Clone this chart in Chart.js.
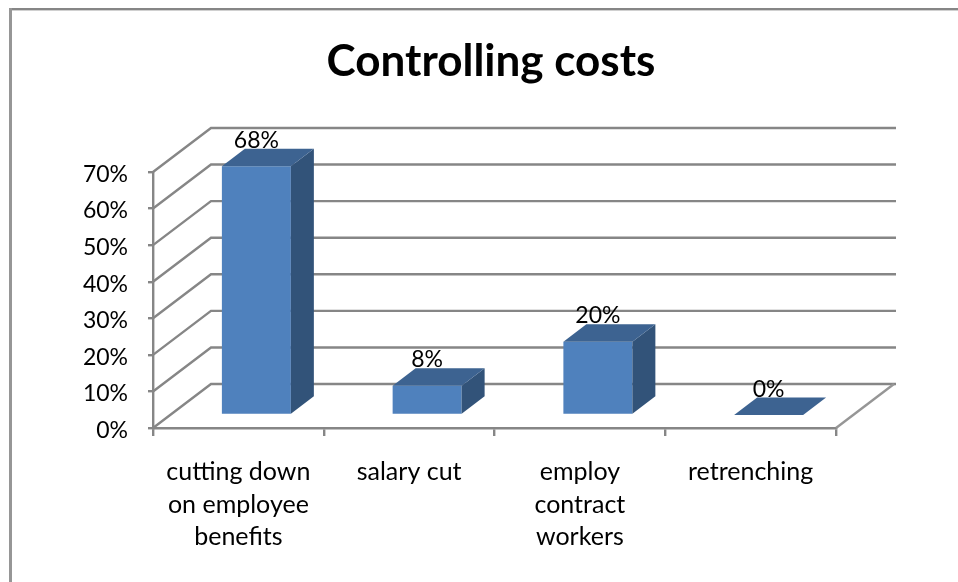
<!DOCTYPE html>
<html lang="en">
<head>
  <meta charset="UTF-8">
  <title>Controlling costs</title>
  <script src="https://cdn.jsdelivr.net/npm/chart.js"></script>
  <style>
    html, body { margin: 0; background: #fff; }
    canvas { display: block; }
  </style>
</head>
<body>
  <canvas id="costsChart" width="958" height="582"></canvas>

  <script>
    const categories = [
      ['cutting down', 'on employee', 'benefits'],
      'salary cut',
      ['employ', 'contract', 'workers'],
      'retrenching'
    ];
    const values = [68, 8, 20, 0];
    const yTicks = [0, 10, 20, 30, 40, 50, 60, 70];

    const axisColor = '#868686';
    const wallDepth = { x: 58, y: -44 };
    const barOffset = { x: 18, y: -13 };
    const barDepth = { x: 23, y: -17.5 };

    function poly(ctx, color, pts) {
      ctx.fillStyle = color;
      ctx.beginPath();
      pts.forEach((p, i) => i ? ctx.lineTo(p[0], p[1]) : ctx.moveTo(p[0], p[1]));
      ctx.closePath();
      ctx.fill();
    }

    // the 3D look: frame, walls and floor behind, bar sides and tops on top
    const threeD = {
      id: 'threeD',
      afterLayout(chart) {
        // title sits a bit right of the page centre
        chart.titleBlock.left = 146;
      },
      beforeDraw(chart) {
        // Lato's middle baseline rides high, nudge the y labels down
        chart.scales.y.getLabelItems().forEach(item => { item.options.translation[1] += 2.5; });
      },
      beforeDatasetsDraw(chart) {
        const ctx = chart.ctx;
        const { left, right } = chart.chartArea;
        const y = chart.scales.y;
        ctx.save();
        ctx.fillStyle = '#d0d0d0';
        ctx.fillRect(12, 10, 946, 1);
        ctx.fillStyle = axisColor;
        ctx.fillRect(9, 8, 949, 2);
        ctx.fillStyle = '#969696';
        ctx.fillRect(9, 8, 3, 574);
        ctx.strokeStyle = axisColor;
        ctx.lineWidth = 2.4;
        yTicks.forEach(t => {
          const py = y.getPixelForValue(t);
          ctx.beginPath();
          ctx.moveTo(left, py);
          ctx.lineTo(left + wallDepth.x, py + wallDepth.y);
          ctx.lineTo(right + wallDepth.x + 2, py + wallDepth.y);
          ctx.stroke();
        });
        const floor = y.getPixelForValue(0);
        ctx.strokeStyle = '#969696';
        ctx.beginPath();
        ctx.moveTo(right, floor);
        ctx.lineTo(right + wallDepth.x, floor + wallDepth.y);
        ctx.stroke();
        ctx.restore();
        ctx.save();
        ctx.translate(barOffset.x, barOffset.y);
      },
      afterDatasetsDraw(chart) {
        const ctx = chart.ctx;
        chart.getDatasetMeta(0).data.forEach(bar => {
          const l = bar.x - bar.width / 2;
          const r = bar.x + bar.width / 2;
          const dx = barDepth.x;
          const dy = barDepth.y;
          poly(ctx, '#325379', [[r, bar.y], [r + dx, bar.y + dy], [r + dx, bar.base + dy], [r, bar.base]]);
          poly(ctx, '#3d6391', [[l, bar.y], [l + dx, bar.y + dy], [r + dx, bar.y + dy], [r, bar.y]]);
        });
        ctx.fillStyle = '#000';
        ctx.font = '23px Lato';
        ctx.textAlign = 'center';
        ctx.textBaseline = 'alphabetic';
        chart.getDatasetMeta(0).data.forEach((bar, i) => {
          ctx.fillText(values[i] + '%', bar.x, bar.y - 18.5);
        });
        ctx.restore();
      }
    };

    new Chart(document.getElementById('costsChart'), {
      type: 'bar',
      data: {
        labels: categories,
        datasets: [{
          data: values,
          backgroundColor: '#4f81bd',
          borderWidth: 0,
          categoryPercentage: 1,
          barPercentage: 0.404
        }]
      },
      plugins: [threeD],
      options: {
        responsive: false,
        animation: false,
        layout: { padding: { left: 0, right: 122, top: 0, bottom: 0 } },
        plugins: {
          legend: { display: false },
          tooltip: { enabled: false },
          title: {
            display: true,
            text: 'Controlling costs',
            color: '#000',
            font: { family: 'Lato', size: 44, weight: 'bold', lineHeight: 1.2 },
            padding: { top: 35, bottom: 84.2 }
          }
        },
        scales: {
          x: {
            afterFit(scale) { scale.height = 154; },
            grid: { drawOnChartArea: false, color: axisColor, lineWidth: 2.4, tickLength: 8 },
            border: { color: axisColor, width: 2.4 },
            ticks: {
              color: '#000',
              padding: 20,
              maxRotation: 0,
              autoSkip: false,
              font: { family: 'Lato', size: 25, lineHeight: 1.3 }
            }
          },
          y: {
            min: 0,
            max: 70,
            afterFit(scale) { scale.width = 153; },
            afterBuildTicks(scale) { scale.ticks = yTicks.map(v => ({ value: v })); },
            grid: { drawOnChartArea: false, color: axisColor, lineWidth: 2.4, tickLength: 5 },
            border: { color: axisColor, width: 2.4 },
            ticks: {
              color: '#000',
              padding: 20,
              callback: v => v + '%',
              font: { family: 'Lato', size: 23 }
            }
          }
        }
      }
    });
  </script>
</body>
</html>
